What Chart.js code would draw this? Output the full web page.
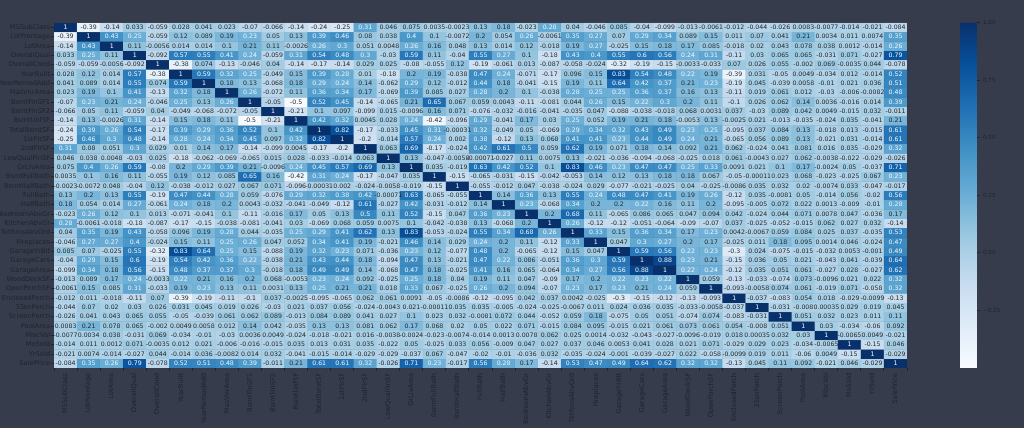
<!DOCTYPE html>
<html>
<head>
<meta charset="utf-8">
<title>Correlation heatmap</title>
<script src="https://cdn.jsdelivr.net/npm/chart.js@4"></script>
<style>
  html, body { margin: 0; padding: 0; background: #363c4b; overflow: hidden; }
  #wrap { position: relative; width: 1024px; height: 428px; }
  #heat { position: absolute; left: 0; top: 0; }
  #bar  { position: absolute; left: 950px; top: 0; }
</style>
</head>
<body>
<div id="wrap">
  <canvas id="heat" width="1024" height="428"></canvas>
  <canvas id="bar" width="74" height="428"></canvas>
</div>
<script>
const FEATURES = ['MSSubClass','LotFrontage','LotArea','OverallQual','OverallCond','YearBuilt','YearRemodAdd','MasVnrArea','BsmtFinSF1','BsmtFinSF2','BsmtUnfSF','TotalBsmtSF','1stFlrSF','2ndFlrSF','LowQualFinSF','GrLivArea','BsmtFullBath','BsmtHalfBath','FullBath','HalfBath','BedroomAbvGr','KitchenAbvGr','TotRmsAbvGrd','Fireplaces','GarageYrBlt','GarageCars','GarageArea','WoodDeckSF','OpenPorchSF','EnclosedPorch','3SsnPorch','ScreenPorch','PoolArea','MiscVal','MoSold','YrSold','SalePrice'];

// ── CORRELATION ROWS (one per feature) ──
const rowMSSubClass = [1,-0.39,-0.14,0.033,-0.059,0.028,0.041,0.023,-0.07,-0.066,-0.14,-0.24,-0.25,0.31,0.046,0.075,0.0035,-0.0023,0.13,0.18,-0.023,0.28,0.04,-0.046,0.085,-0.04,-0.099,-0.013,-0.0061,-0.012,-0.044,-0.026,0.0083,-0.0077,-0.014,-0.021,-0.084];
const rowLotFrontage = [-0.39,1,0.43,0.25,-0.059,0.12,0.089,0.19,0.23,0.05,0.13,0.39,0.46,0.08,0.038,0.4,0.1,-0.0072,0.2,0.054,0.26,-0.0061,0.35,0.27,0.07,0.29,0.34,0.089,0.15,0.011,0.07,0.041,0.21,0.0034,0.011,0.0074,0.35];
const rowLotArea = [-0.14,0.43,1,0.11,-0.0056,0.014,0.014,0.1,0.21,0.11,-0.0026,0.26,0.3,0.051,0.0048,0.26,0.16,0.048,0.13,0.014,0.12,-0.018,0.19,0.27,-0.025,0.15,0.18,0.17,0.085,-0.018,0.02,0.043,0.078,0.038,0.0012,-0.014,0.26];
const rowOverallQual = [0.033,0.25,0.11,1,-0.092,0.57,0.55,0.41,0.24,-0.059,0.31,0.54,0.48,0.3,-0.03,0.59,0.11,-0.04,0.55,0.27,0.1,-0.18,0.43,0.4,0.55,0.6,0.56,0.24,0.31,-0.11,0.03,0.065,0.065,-0.031,0.071,-0.027,0.79];
const rowOverallCond = [-0.059,-0.059,-0.0056,-0.092,1,-0.38,0.074,-0.13,-0.046,0.04,-0.14,-0.17,-0.14,0.029,0.025,-0.08,-0.055,0.12,-0.19,-0.061,0.013,-0.087,-0.058,-0.024,-0.32,-0.19,-0.15,-0.0033,-0.033,0.07,0.026,0.055,-0.002,0.069,-0.0035,0.044,-0.078];
const rowYearBuilt = [0.028,0.12,0.014,0.57,-0.38,1,0.59,0.32,0.25,-0.049,0.15,0.39,0.28,0.01,-0.18,0.2,0.19,-0.038,0.47,0.24,-0.071,-0.17,0.096,0.15,0.83,0.54,0.48,0.22,0.19,-0.39,0.031,-0.05,0.0049,-0.034,0.012,-0.014,0.52];
const rowYearRemodAdd = [0.041,0.089,0.014,0.55,0.074,0.59,1,0.18,0.13,-0.068,0.18,0.29,0.24,0.14,-0.062,0.29,0.12,-0.012,0.44,0.18,-0.041,-0.15,0.19,0.11,0.64,0.42,0.37,0.21,0.23,-0.19,0.045,-0.039,0.0058,-0.01,0.021,0.036,0.51];
const rowMasVnrArea = [0.023,0.19,0.1,0.41,-0.13,0.32,0.18,1,0.26,-0.072,0.11,0.36,0.34,0.17,-0.069,0.39,0.085,0.027,0.28,0.2,0.1,-0.038,0.28,0.25,0.25,0.36,0.37,0.16,0.13,-0.11,0.019,0.061,0.012,-0.03,-0.006,-0.0082,0.48];
const rowBsmtFinSF1 = [-0.07,0.23,0.21,0.24,-0.046,0.25,0.13,0.26,1,-0.05,-0.5,0.52,0.45,-0.14,-0.065,0.21,0.65,0.067,0.059,0.0043,-0.11,-0.081,0.044,0.26,0.15,0.22,0.3,0.2,0.11,-0.1,0.026,0.062,0.14,0.0036,-0.016,0.014,0.39];
const rowBsmtFinSF2 = [-0.066,0.05,0.11,-0.059,0.04,-0.049,-0.068,-0.072,-0.05,1,-0.21,0.1,0.097,-0.099,0.015,-0.0096,0.16,0.071,-0.076,-0.032,-0.016,-0.041,-0.035,0.047,-0.088,-0.038,-0.018,0.068,0.0031,0.037,-0.03,0.089,0.042,0.0049,-0.015,0.032,-0.011];
const rowBsmtUnfSF = [-0.14,0.13,-0.0026,0.31,-0.14,0.15,0.18,0.11,-0.5,-0.21,1,0.42,0.32,0.0045,0.028,0.24,-0.42,-0.096,0.29,-0.041,0.17,0.03,0.25,0.052,0.19,0.21,0.18,-0.0053,0.13,-0.0025,0.021,-0.013,-0.035,-0.024,0.035,-0.041,0.21];
const rowTotalBsmtSF = [-0.24,0.39,0.26,0.54,-0.17,0.39,0.29,0.36,0.52,0.1,0.42,1,0.82,-0.17,-0.033,0.45,0.31,-0.00031,0.32,-0.049,0.05,-0.069,0.29,0.34,0.32,0.43,0.49,0.23,0.25,-0.095,0.037,0.084,0.13,-0.018,0.013,-0.015,0.61];
const row1stFlrSF = [-0.25,0.46,0.3,0.48,-0.14,0.28,0.24,0.34,0.45,0.097,0.32,0.82,1,-0.2,-0.014,0.57,0.24,0.002,0.38,-0.12,0.13,0.068,0.41,0.41,0.23,0.44,0.49,0.24,0.21,-0.065,0.056,0.089,0.13,-0.021,0.031,-0.014,0.61];
const row2ndFlrSF = [0.31,0.08,0.051,0.3,0.029,0.01,0.14,0.17,-0.14,-0.099,0.0045,-0.17,-0.2,1,0.063,0.69,-0.17,-0.024,0.42,0.61,0.5,0.059,0.62,0.19,0.071,0.18,0.14,0.092,0.21,0.062,-0.024,0.041,0.081,0.016,0.035,-0.029,0.32];
const rowLowQualFinSF = [0.046,0.038,0.0048,-0.03,0.025,-0.18,-0.062,-0.069,-0.065,0.015,0.028,-0.033,-0.014,0.063,1,0.13,-0.047,-0.0058,-0.00071,-0.027,0.11,0.0075,0.13,-0.021,-0.036,-0.094,-0.068,-0.025,0.018,0.061,-0.0043,0.027,0.062,-0.0038,-0.022,-0.029,-0.026];
const rowGrLivArea = [0.075,0.4,0.26,0.59,-0.08,0.2,0.29,0.39,0.21,-0.0096,0.24,0.45,0.57,0.69,0.13,1,0.035,-0.019,0.63,0.42,0.52,0.1,0.83,0.46,0.23,0.47,0.47,0.25,0.33,0.0091,0.021,0.1,0.17,-0.0024,0.05,-0.037,0.71];
const rowBsmtFullBath = [0.0035,0.1,0.16,0.11,-0.055,0.19,0.12,0.085,0.65,0.16,-0.42,0.31,0.24,-0.17,-0.047,0.035,1,-0.15,-0.065,-0.031,-0.15,-0.042,-0.053,0.14,0.12,0.13,0.18,0.18,0.067,-0.05,-0.00011,0.023,0.068,-0.023,-0.025,0.067,0.23];
const rowBsmtHalfBath = [-0.0023,-0.0072,0.048,-0.04,0.12,-0.038,-0.012,0.027,0.067,0.071,-0.096,-0.00031,0.002,-0.024,-0.0058,-0.019,-0.15,1,-0.055,-0.012,0.047,-0.038,-0.024,0.029,-0.077,-0.021,-0.025,0.04,-0.025,-0.0086,0.035,0.032,0.02,-0.0074,0.033,-0.047,-0.017];
const rowFullBath = [0.13,0.2,0.13,0.55,-0.19,0.47,0.44,0.28,0.059,-0.076,0.29,0.32,0.38,0.42,-0.00071,0.63,-0.065,-0.055,1,0.14,0.36,0.13,0.55,0.24,0.48,0.47,0.41,0.19,0.26,-0.12,0.035,-0.0081,0.05,-0.014,0.056,-0.02,0.56];
const rowHalfBath = [0.18,0.054,0.014,0.27,-0.061,0.24,0.18,0.2,0.0043,-0.032,-0.041,-0.049,-0.12,0.61,-0.027,0.42,-0.031,-0.012,0.14,1,0.23,-0.068,0.34,0.2,0.2,0.22,0.16,0.11,0.2,-0.095,-0.005,0.072,0.022,0.0013,-0.009,-0.01,0.28];
const rowBedroomAbvGr = [-0.023,0.26,0.12,0.1,0.013,-0.071,-0.041,0.1,-0.11,-0.016,0.17,0.05,0.13,0.5,0.11,0.52,-0.15,0.047,0.36,0.23,1,0.2,0.68,0.11,-0.065,0.086,0.065,0.047,0.094,0.042,-0.024,0.044,0.071,0.0078,0.047,-0.036,0.17];
const rowKitchenAbvGr = [0.28,-0.0061,-0.018,-0.18,-0.087,-0.17,-0.15,-0.038,-0.081,-0.041,0.03,-0.069,0.068,0.059,0.0075,0.1,-0.042,-0.038,0.13,-0.068,0.2,1,0.26,-0.12,-0.12,-0.051,-0.064,-0.09,-0.07,0.037,-0.025,-0.052,-0.015,0.062,0.027,0.032,-0.14];
const rowTotRmsAbvGrd = [0.04,0.35,0.19,0.43,-0.058,0.096,0.19,0.28,0.044,-0.035,0.25,0.29,0.41,0.62,0.13,0.83,-0.053,-0.024,0.55,0.34,0.68,0.26,1,0.33,0.15,0.36,0.34,0.17,0.23,0.0042,-0.0067,0.059,0.084,0.025,0.037,-0.035,0.53];
const rowFireplaces = [-0.046,0.27,0.27,0.4,-0.024,0.15,0.11,0.25,0.26,0.047,0.052,0.34,0.41,0.19,-0.021,0.46,0.14,0.029,0.24,0.2,0.11,-0.12,0.33,1,0.047,0.3,0.27,0.2,0.17,-0.025,0.011,0.18,0.095,0.0014,0.046,-0.024,0.47];
const rowGarageYrBlt = [0.085,0.07,-0.025,0.55,-0.32,0.83,0.64,0.25,0.15,-0.088,0.19,0.32,0.23,0.071,-0.036,0.23,0.12,-0.077,0.48,0.2,-0.065,-0.12,0.15,0.047,1,0.59,0.56,0.22,0.23,-0.3,0.024,-0.075,-0.015,-0.032,0.0053,-0.001,0.49];
const rowGarageCars = [-0.04,0.29,0.15,0.6,-0.19,0.54,0.42,0.36,0.22,-0.038,0.21,0.43,0.44,0.18,-0.094,0.47,0.13,-0.021,0.47,0.22,0.086,-0.051,0.36,0.3,0.59,1,0.88,0.23,0.21,-0.15,0.036,0.05,0.021,-0.043,0.041,-0.039,0.64];
const rowGarageArea = [-0.099,0.34,0.18,0.56,-0.15,0.48,0.37,0.37,0.3,-0.018,0.18,0.49,0.49,0.14,-0.068,0.47,0.18,-0.025,0.41,0.16,0.065,-0.064,0.34,0.27,0.56,0.88,1,0.22,0.24,-0.12,0.035,0.051,0.061,-0.027,0.028,-0.027,0.62];
const rowWoodDeckSF = [-0.013,0.089,0.17,0.24,-0.0033,0.22,0.21,0.16,0.2,0.068,-0.0053,0.23,0.24,0.092,-0.025,0.25,0.18,0.04,0.19,0.11,0.047,-0.09,0.17,0.2,0.22,0.23,0.22,1,0.059,-0.13,-0.033,-0.074,0.073,-0.0096,0.021,0.022,0.32];
const rowOpenPorchSF = [-0.0061,0.15,0.085,0.31,-0.033,0.19,0.23,0.13,0.11,0.0031,0.13,0.25,0.21,0.21,0.018,0.33,0.067,-0.025,0.26,0.2,0.094,-0.07,0.23,0.17,0.23,0.21,0.24,0.059,1,-0.093,-0.0058,0.074,0.061,-0.019,0.071,-0.058,0.32];
const rowEnclosedPorch = [-0.012,0.011,-0.018,-0.11,0.07,-0.39,-0.19,-0.11,-0.1,0.037,-0.0025,-0.095,-0.065,0.062,0.061,0.0091,-0.05,-0.0086,-0.12,-0.095,0.042,0.037,0.0042,-0.025,-0.3,-0.15,-0.12,-0.13,-0.093,1,-0.037,-0.083,0.054,0.018,-0.029,-0.0099,-0.13];
const row3SsnPorch = [-0.044,0.07,0.02,0.03,0.026,0.031,0.045,0.019,0.026,-0.03,0.021,0.037,0.056,-0.024,-0.0043,0.021,-0.00011,0.035,0.035,-0.005,-0.024,-0.025,-0.0067,0.011,0.024,0.036,0.035,-0.033,-0.0058,-0.037,1,-0.031,-0.008,0.00035,0.029,0.019,0.045];
const rowScreenPorch = [-0.026,0.041,0.043,0.065,0.055,-0.05,-0.039,0.061,0.062,0.089,-0.013,0.084,0.089,0.041,0.027,0.1,0.023,0.032,-0.0081,0.072,0.044,-0.052,0.059,0.18,-0.075,0.05,0.051,-0.074,0.074,-0.083,-0.031,1,0.051,0.032,0.023,0.011,0.11];
const rowPoolArea = [0.0083,0.21,0.078,0.065,-0.002,0.0049,0.0058,0.012,0.14,0.042,-0.035,0.13,0.13,0.081,0.062,0.17,0.068,0.02,0.05,0.022,0.071,-0.015,0.084,0.095,-0.015,0.021,0.061,0.073,0.061,0.054,-0.008,0.051,1,0.03,-0.034,-0.06,0.092];
const rowMiscVal = [-0.0077,0.0034,0.038,-0.031,0.069,-0.034,-0.01,-0.03,0.0036,0.0049,-0.024,-0.018,-0.021,0.016,-0.0038,-0.0024,-0.023,-0.0074,-0.014,0.0013,0.0078,0.062,0.025,0.0014,-0.032,-0.043,-0.027,-0.0096,-0.019,0.018,0.00035,0.032,0.03,1,-0.0065,0.0049,-0.021];
const rowMoSold = [-0.014,0.011,0.0012,0.071,-0.0035,0.012,0.021,-0.006,-0.016,-0.015,0.035,0.013,0.031,0.035,-0.022,0.05,-0.025,0.033,0.056,-0.009,0.047,0.027,0.037,0.046,0.0053,0.041,0.028,0.021,0.071,-0.029,0.029,0.023,-0.034,-0.0065,1,-0.15,0.046];
const rowYrSold = [-0.021,0.0074,-0.014,-0.027,0.044,-0.014,0.036,-0.0082,0.014,0.032,-0.041,-0.015,-0.014,-0.029,-0.029,-0.037,0.067,-0.047,-0.02,-0.01,-0.036,0.032,-0.035,-0.024,-0.001,-0.039,-0.027,0.022,-0.058,-0.0099,0.019,0.011,-0.06,0.0049,-0.15,1,-0.029];
const rowSalePrice = [-0.084,0.35,0.26,0.79,-0.078,0.52,0.51,0.48,0.39,-0.011,0.21,0.61,0.61,0.32,-0.026,0.71,0.23,-0.017,0.56,0.28,0.17,-0.14,0.53,0.47,0.49,0.64,0.62,0.32,0.32,-0.13,0.045,0.11,0.092,-0.021,0.046,-0.029,1];

const CORR_ROWS = [rowMSSubClass,rowLotFrontage,rowLotArea,rowOverallQual,rowOverallCond,rowYearBuilt,rowYearRemodAdd,rowMasVnrArea,rowBsmtFinSF1,rowBsmtFinSF2,rowBsmtUnfSF,rowTotalBsmtSF,row1stFlrSF,row2ndFlrSF,rowLowQualFinSF,rowGrLivArea,rowBsmtFullBath,rowBsmtHalfBath,rowFullBath,rowHalfBath,rowBedroomAbvGr,rowKitchenAbvGr,rowTotRmsAbvGrd,rowFireplaces,rowGarageYrBlt,rowGarageCars,rowGarageArea,rowWoodDeckSF,rowOpenPorchSF,rowEnclosedPorch,row3SsnPorch,rowScreenPorch,rowPoolArea,rowMiscVal,rowMoSold,rowYrSold,rowSalePrice];

const COLORBAR_TICKS = [-0.25, 0, 0.25, 0.5, 0.75, 1];
const VMIN = -0.5, VMAX = 1;

// ── BLUES COLOURMAP ──
const BLUES = [[247,251,255],[222,235,247],[198,219,239],[158,202,225],[107,174,214],[66,146,198],[33,113,181],[8,81,156],[8,48,107]];
function blues(v) {
  const t = Math.min(1, Math.max(0, (v - VMIN) / (VMAX - VMIN))) * (BLUES.length - 1);
  const i = Math.min(BLUES.length - 2, Math.floor(t));
  const f = t - i;
  const c = BLUES[i].map((a, k) => Math.round(a + (BLUES[i + 1][k] - a) * f));
  return `rgb(${c[0]},${c[1]},${c[2]})`;
}

const TICK_DARK = '#20242f';
const FONT = 'DejaVu Sans';

// ── CELL ANNOTATIONS ──
const cellText = {
  id: 'cellText',
  afterDatasetsDraw(chart) {
    const { ctx, scales: { x, y } } = chart;
    ctx.save();
    ctx.font = `6.2px "${FONT}"`;
    ctx.textAlign = 'center';
    ctx.textBaseline = 'middle';
    CORR_ROWS.forEach((row, i) => {
      row.forEach((v, j) => {
        ctx.fillStyle = v >= 0.22 ? '#e8f1f8' : '#262626';
        ctx.fillText(String(v), x.getPixelForValue(j), y.getPixelForValue(i + 0.5));
      });
    });
    ctx.restore();
  }
};

// ── HEATMAP (stacked bars, one dataset per row) ──
new Chart(document.getElementById('heat'), {
  type: 'bar',
  data: {
    labels: FEATURES,
    datasets: CORR_ROWS.map(row => ({
      data: row.map(() => 1),
      backgroundColor: row.map(blues),
      borderColor: row.map(blues),
      borderWidth: 0.6,
      barPercentage: 1,
      categoryPercentage: 1,
    }))
  },
  options: {
    responsive: false,
    animation: false,
    layout: { padding: { top: 22.7, right: 117, left: 0, bottom: 0 } },
    plugins: { legend: { display: false }, tooltip: { enabled: false } },
    scales: {
      x: {
        stacked: true,
        afterFit: s => { s.height = 60; },
        grid: { drawOnChartArea: false, tickLength: 3, color: TICK_DARK },
        border: { display: false },
        ticks: { autoSkip: false, minRotation: 90, maxRotation: 90, padding: 2, color: TICK_DARK, font: { family: FONT, size: 6.7 } },
      },
      y: {
        stacked: true,
        reverse: true,
        min: 0,
        max: FEATURES.length,
        afterFit: s => { s.width = 54; },
        afterBuildTicks: s => { s.ticks = FEATURES.map((_, i) => ({ value: i + 0.5 })); },
        grid: { drawOnChartArea: false, tickLength: 3, color: TICK_DARK },
        border: { display: false },
        ticks: { autoSkip: false, padding: 1, color: TICK_DARK, font: { family: FONT, size: 6.7 }, callback: v => FEATURES[Math.floor(v)] },
      }
    }
  },
  plugins: [cellText]
});

// ── COLOUR BAR ──
new Chart(document.getElementById('bar'), {
  type: 'bar',
  data: {
    labels: [''],
    datasets: [{
      data: [[VMIN, VMAX]],
      barPercentage: 1,
      categoryPercentage: 1,
      backgroundColor(c) {
        const area = c.chart.chartArea;
        if (!area) return BLUES[4];
        const g = c.chart.ctx.createLinearGradient(0, area.bottom, 0, area.top);
        BLUES.forEach((b, i) => g.addColorStop(i / (BLUES.length - 1), `rgb(${b[0]},${b[1]},${b[2]})`));
        return g;
      },
    }]
  },
  options: {
    responsive: false,
    animation: false,
    layout: { padding: { top: 22.7, bottom: 60, left: 10, right: 0 } },
    plugins: { legend: { display: false }, tooltip: { enabled: false } },
    scales: {
      x: { display: false },
      y: {
        position: 'right',
        min: VMIN,
        max: VMAX,
        afterFit: s => { s.width = 47; },
        afterBuildTicks: s => { s.ticks = COLORBAR_TICKS.map(value => ({ value })); },
        grid: { drawOnChartArea: false, tickLength: 3, color: TICK_DARK },
        border: { display: false },
        ticks: { padding: 3, color: TICK_DARK, font: { family: FONT, size: 5.6 }, callback: v => v.toFixed(2).replace('-', '\u2212') },
      }
    }
  }
});
</script>
</body>
</html>
